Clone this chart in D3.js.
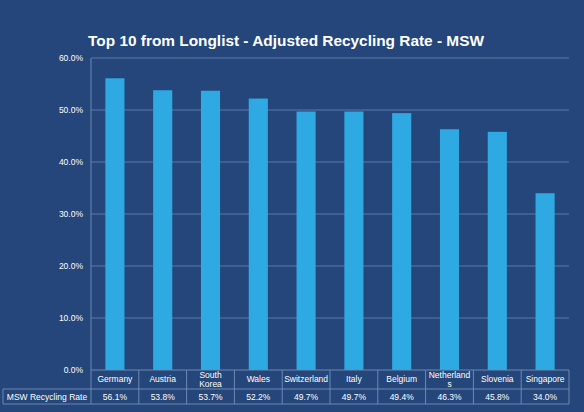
<!DOCTYPE html>
<html><head><meta charset="utf-8">
<script src="https://cdn.jsdelivr.net/npm/d3@7"></script>
<style>html,body{margin:0;padding:0;background:#24467a;}svg{display:block;}</style>
</head><body>
<script>
const categories = ["Germany","Austria","South Korea","Wales","Switzerland","Italy","Belgium","Netherlands","Slovenia","Singapore"];
const categoryLines = [["Germany"],["Austria"],["South","Korea"],["Wales"],["Switzerland"],["Italy"],["Belgium"],["Netherland","s"],["Slovenia"],["Singapore"]];
const values = [56.1,53.8,53.7,52.2,49.7,49.7,49.4,46.3,45.8,34.0];
const valueLabels = ["56.1%","53.8%","53.7%","52.2%","49.7%","49.7%","49.4%","46.3%","45.8%","34.0%"];
const yTicks = [0,10,20,30,40,50,60];
const seriesName = "MSW Recycling Rate";
const title = "Top 10 from Longlist - Adjusted Recycling Rate - MSW";

(function(){
const W=584,H=412;
const svg=d3.select("body").append("svg").attr("width",W).attr("height",H);
svg.append("rect").attr("width",W).attr("height",H).attr("fill","#24467a");
const font="Liberation Sans, Arial, sans-serif";
const pl=91,pr=569,pt=58,pb=370;
const x=d3.scaleBand().domain(categories).range([pl,pr]).paddingInner(0.6).paddingOuter(0.3);
const xc=d3.scaleBand().domain(categories).range([pl,pr]);
const y=d3.scaleLinear().domain([0,60]).range([pb,pt]);

svg.append("text").attr("x",286).attr("y",45.5).attr("text-anchor","middle")
  .attr("font-family",font).attr("font-weight","bold").attr("font-size",15.4).attr("fill","#ffffff").text(title);

svg.append("g").selectAll("line").data(yTicks.filter(d=>d>0)).join("line")
  .attr("x1",pl).attr("x2",pr).attr("y1",d=>y(d)).attr("y2",d=>y(d))
  .attr("stroke","#5a78a5").attr("stroke-width",1);

const yAxis=d3.axisLeft(y).tickValues(yTicks).tickFormat(d=>d.toFixed(1)+"%").tickSize(0).tickPadding(8);
const ga=svg.append("g").attr("transform",`translate(${pl},0)`).call(yAxis);
ga.select(".domain").remove();
ga.selectAll("text").attr("font-family",font).attr("font-size",8.5).attr("fill","#ffffff");

svg.append("g").selectAll("rect").data(values).join("rect")
  .attr("x",(d,i)=>x(categories[i])).attr("width",x.bandwidth())
  .attr("y",d=>y(d)).attr("height",d=>y(0)-y(d)).attr("fill","#2ea9e1");

const lc="#6f88b0";
const tb1=389,tb2=404;
svg.append("line").attr("x1",pl).attr("x2",pl).attr("y1",pt).attr("y2",tb2).attr("stroke",lc);
svg.append("line").attr("x1",pl).attr("x2",pr).attr("y1",pb).attr("y2",pb).attr("stroke",lc);
svg.append("line").attr("x1",3).attr("x2",pr).attr("y1",tb1).attr("y2",tb1).attr("stroke",lc);
svg.append("line").attr("x1",3).attr("x2",pr).attr("y1",tb2).attr("y2",tb2).attr("stroke",lc);
svg.append("line").attr("x1",3).attr("x2",3).attr("y1",tb1).attr("y2",tb2).attr("stroke",lc);
svg.append("g").selectAll("line").data(categories).join("line")
  .attr("x1",d=>xc(d)+xc.bandwidth()).attr("x2",d=>xc(d)+xc.bandwidth())
  .attr("y1",pb).attr("y2",tb2).attr("stroke",lc);

const cl=svg.append("g").selectAll("text").data(categories).join("text")
  .attr("x",d=>xc(d)+xc.bandwidth()/2).attr("text-anchor","middle")
  .attr("font-family",font).attr("font-size",8.5).attr("fill","#ffffff")
  .attr("y",(d,i)=>categoryLines[i].length>1?378:382);
cl.each(function(d,i){
  const t=d3.select(this);
  categoryLines[i].forEach((s,j)=>t.append("tspan").attr("x",xc(d)+xc.bandwidth()/2).attr("dy",j?9:0).text(s));
});

svg.append("text").attr("x",47).attr("y",400).attr("text-anchor","middle")
  .attr("font-family",font).attr("font-size",8.5).attr("fill","#ffffff").text(seriesName);
svg.append("g").selectAll("text").data(categories).join("text")
  .attr("x",d=>xc(d)+xc.bandwidth()/2).attr("y",400).attr("text-anchor","middle")
  .attr("font-family",font).attr("font-size",8.5).attr("fill","#ffffff")
  .text((d,i)=>valueLabels[i]);
})();
</script>
</body></html>
